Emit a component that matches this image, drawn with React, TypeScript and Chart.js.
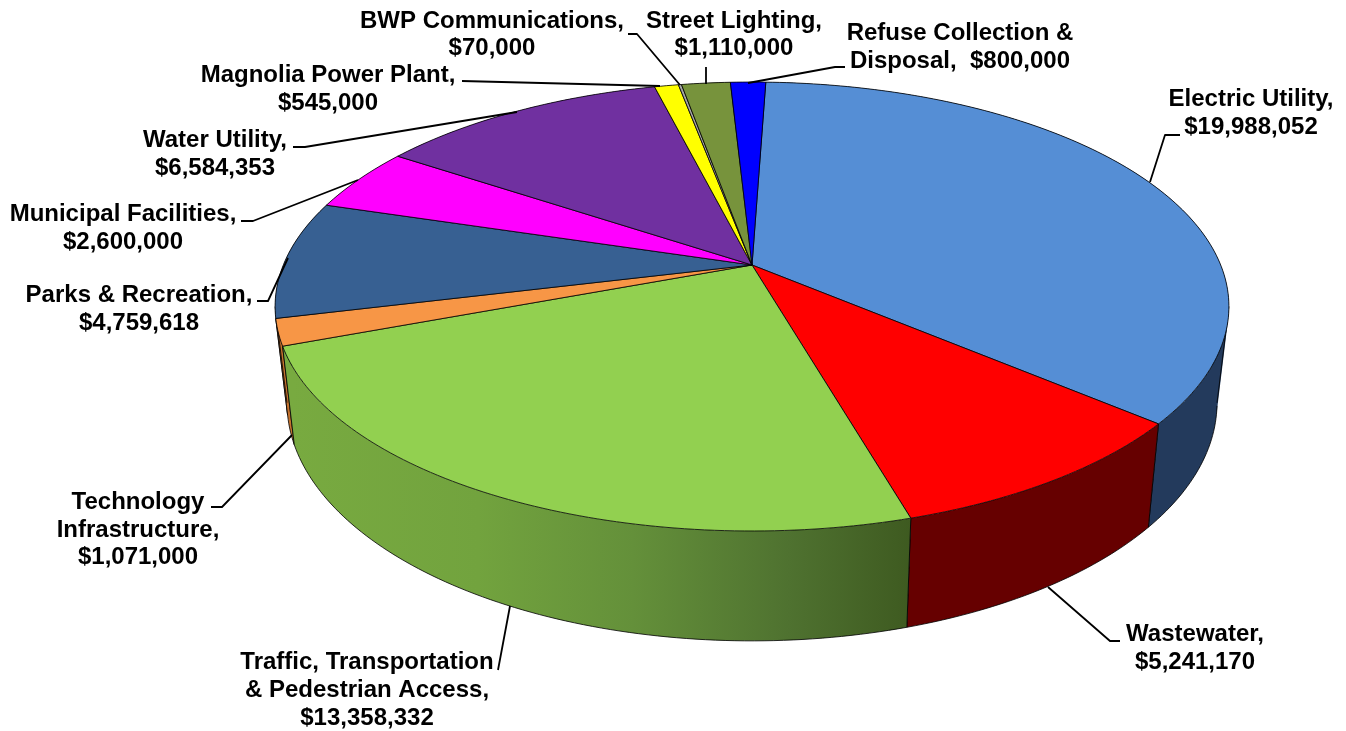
import React, { useEffect, useRef } from "react";
import { Chart, registerables } from "chart.js";

Chart.register(...registerables);

const categories = [
  "Electric Utility",
  "Wastewater",
  "Traffic, Transportation & Pedestrian Access",
  "Technology Infrastructure",
  "Parks & Recreation",
  "Municipal Facilities",
  "Water Utility",
  "Magnolia Power Plant",
  "BWP Communications",
  "Street Lighting",
  "Refuse Collection & Disposal",
];
const budget = [19988052, 5241170, 13358332, 1071000, 4759618, 2600000, 6584353, 545000, 70000, 1110000, 800000];
const topColors = ["#558ed5", "#ff0000", "#92d050", "#f79646", "#376092", "#ff00ff", "#7030a0", "#ffff00", "#a6a6a6", "#77933c", "#0000ff"];
const wallColors = ["#233a5c", "#660000", "#6a9a3a", "#c4722e", "#254268", "#a000a0", "#4a2070", "#a0a000", "#666666", "#4f6228", "#0000a0"];
const greenWallStops: [number, string][] = [
  [0, "#78aa40"],
  [0.3, "#72a33e"],
  [0.55, "#64903a"],
  [0.8, "#4f7230"],
  [1, "#3e5a20"],
];

const labelLines = [
  ["Electric Utility,", "$19,988,052"],
  ["Wastewater,", "$5,241,170"],
  ["Traffic, Transportation", "& Pedestrian Access,", "$13,358,332"],
  ["Technology", "Infrastructure,", "$1,071,000"],
  ["Parks & Recreation,", "$4,759,618"],
  ["Municipal Facilities,", "$2,600,000"],
  ["Water Utility,", "$6,584,353"],
  ["Magnolia Power Plant,", "$545,000"],
  ["BWP Communications,", "$70,000"],
  ["Street Lighting,", "$1,110,000"],
  ["Refuse Collection &", "Disposal,  $800,000"],
];
const labelAnchors: [number, number, number][] = [
  [1251, 106, 28],
  [1195, 641, 28],
  [367, 669, 28],
  [138, 509, 27.5],
  [139, 302, 28],
  [123, 221, 28],
  [215, 147, 28],
  [328, 82, 28],
  [492, 28, 27],
  [734, 28, 27],
  [960, 40, 28],
];
const leaders: [number, number][][] = [
  [[1150, 182], [1165, 135], [1180, 135]],
  [[1048, 587], [1110, 641], [1120, 641]],
  [[510, 606], [498, 670]],
  [[292, 435], [222, 507], [211, 507]],
  [[288, 258], [268, 301], [257, 301]],
  [[358, 180], [253, 221], [241, 221]],
  [[517, 112], [305, 147], [293, 147]],
  [[660, 86], [462, 81]],
  [[680, 85], [637, 34], [628, 34]],
  [[706, 84], [706, 67]],
  [[748, 83], [835, 67], [845, 67]],
];

const tilt = 0.1849;
const topDisc = { a: 468.7, b: 216.8, dy: 0 };
const bottomDisc = { a: 457, b: 230, dy: 93.7 };

type Disc = typeof topDisc;

function project(disc: Disc, cx: number, cy: number, angle: number): [number, number] {
  const u = Math.cos(angle);
  const v = Math.sin(angle);
  const w = 1 - tilt * v;
  return [cx + (disc.a * u) / w, cy + disc.dy + (disc.b * v) / w];
}

function samples(start: number, end: number): number[] {
  const n = Math.max(2, Math.ceil(((end - start) * 180) / Math.PI));
  const out: number[] = [];
  for (let i = 0; i <= n; i++) out.push(start + ((end - start) * i) / n);
  return out;
}

// position of an angle inside one turn starting at 0 (right-hand side, clockwise on screen)
function wrapAngle(t: number): number {
  const turn = Math.PI * 2;
  return ((t % turn) + turn) % turn;
}

const projectedPie = {
  id: "projectedPie",
  beforeDatasetsDraw(chart: any) {
    const ctx: CanvasRenderingContext2D = chart.ctx;
    const arcs: any[] = chart.getDatasetMeta(0).data;
    const cx = arcs[0].x;
    const cy = arcs[0].y;
    const edge = "rgba(0,0,0,0.8)";
    const tangent = Math.asin(tilt);
    const front = (t: number) => {
      const w = wrapAngle(t);
      return w >= tangent && w <= Math.PI - tangent;
    };
    ctx.save();
    ctx.lineJoin = "round";

    // walls, back to front
    const order = arcs
      .map((arc, i) => ({ arc, i, v: Math.sin((arc.startAngle + arc.endAngle) / 2) }))
      .sort((p, q) => p.v - q.v);
    for (const { arc, i } of order) {
      let fill: string | CanvasGradient = wallColors[i];
      if (i === 2) {
        const g = ctx.createLinearGradient(cx - 460, 0, cx + 160, 0);
        greenWallStops.forEach(([o, c]) => g.addColorStop(o, c));
        fill = g;
      }
      const angles = samples(arc.startAngle, arc.endAngle);
      ctx.fillStyle = fill;
      ctx.beginPath();
      for (let k = 0; k < angles.length - 1; k++) {
        const q = [
          project(topDisc, cx, cy, angles[k]),
          project(topDisc, cx, cy, angles[k + 1]),
          project(bottomDisc, cx, cy, angles[k + 1]),
          project(bottomDisc, cx, cy, angles[k]),
        ];
        let area = 0;
        q.forEach((p, n) => {
          const r = q[(n + 1) % 4];
          area += p[0] * r[1] - r[0] * p[1];
        });
        if (area < 0) q.reverse();
        q.forEach((p, n) => (n === 0 ? ctx.moveTo(p[0], p[1]) : ctx.lineTo(p[0], p[1])));
        ctx.closePath();
      }
      ctx.fill("nonzero");

      // wall edges: only the part of the lower rim that faces the viewer
      ctx.strokeStyle = edge;
      ctx.lineWidth = 1;
      ctx.beginPath();
      let pen = false;
      angles.forEach((t) => {
        if (!front(t)) {
          pen = false;
          return;
        }
        const p = project(bottomDisc, cx, cy, t);
        if (!pen) ctx.moveTo(p[0], p[1]);
        else ctx.lineTo(p[0], p[1]);
        pen = true;
      });
      for (const t of [arc.startAngle, arc.endAngle]) {
        if (!front(t)) continue;
        const p = project(topDisc, cx, cy, t);
        const q = project(bottomDisc, cx, cy, t);
        ctx.moveTo(p[0], p[1]);
        ctx.lineTo(q[0], q[1]);
      }
      ctx.stroke();
    }
    // silhouette edges, following the widest points of both rims
    ctx.strokeStyle = edge;
    ctx.lineWidth = 1;
    ctx.beginPath();
    for (const t of [tangent, Math.PI - tangent]) {
      const p = project(topDisc, cx, cy, t);
      const q = project(bottomDisc, cx, cy, t);
      ctx.moveTo(p[0], p[1]);
      ctx.lineTo(q[0], q[1]);
    }
    ctx.stroke();

    // top faces
    arcs.forEach((arc) => {
      ctx.beginPath();
      ctx.moveTo(cx, cy);
      samples(arc.startAngle, arc.endAngle).forEach((t) => {
        const p = project(topDisc, cx, cy, t);
        ctx.lineTo(p[0], p[1]);
      });
      ctx.closePath();
      ctx.fillStyle = arc.options.backgroundColor;
      ctx.fill();
      ctx.strokeStyle = edge;
      ctx.lineWidth = 1;
      ctx.stroke();
    });
    ctx.restore();
    return false;
  },
  afterDraw(chart: any) {
    const ctx: CanvasRenderingContext2D = chart.ctx;
    ctx.save();
    ctx.strokeStyle = "#000000";
    ctx.lineWidth = 1.8;
    ctx.lineJoin = "round";
    leaders.forEach((line) => {
      ctx.beginPath();
      line.forEach(([x, y], k) => (k === 0 ? ctx.moveTo(x, y) : ctx.lineTo(x, y)));
      ctx.stroke();
    });
    ctx.fillStyle = "#000000";
    ctx.font = 'bold 24px "Liberation Sans", Arial, sans-serif';
    ctx.textAlign = "center";
    ctx.textBaseline = "alphabetic";
    labelLines.forEach((lines, i) => {
      const [x, y, step] = labelAnchors[i];
      lines.forEach((text, k) => ctx.fillText(text, x, y + k * step));
    });
    ctx.restore();
  },
};

export default function App() {
  const ref = useRef<HTMLCanvasElement | null>(null);
  useEffect(() => {
    document.body.style.margin = "0";
    document.body.style.background = "#ffffff";
    const chart = new Chart(ref.current as HTMLCanvasElement, {
      type: "pie",
      data: {
        labels: categories,
        datasets: [{ data: budget, backgroundColor: topColors, borderWidth: 0 }],
      },
      options: {
        responsive: false,
        animation: false,
        rotation: 2,
        layout: { padding: { left: 158, bottom: 201, top: 0, right: 0 } },
        plugins: { legend: { display: false }, tooltip: { enabled: false }, title: { display: false } },
      },
      plugins: [projectedPie],
    } as any);
    return () => chart.destroy();
  }, []);
  return <canvas ref={ref} width={1346} height={731} style={{ display: "block" }} />;
}
